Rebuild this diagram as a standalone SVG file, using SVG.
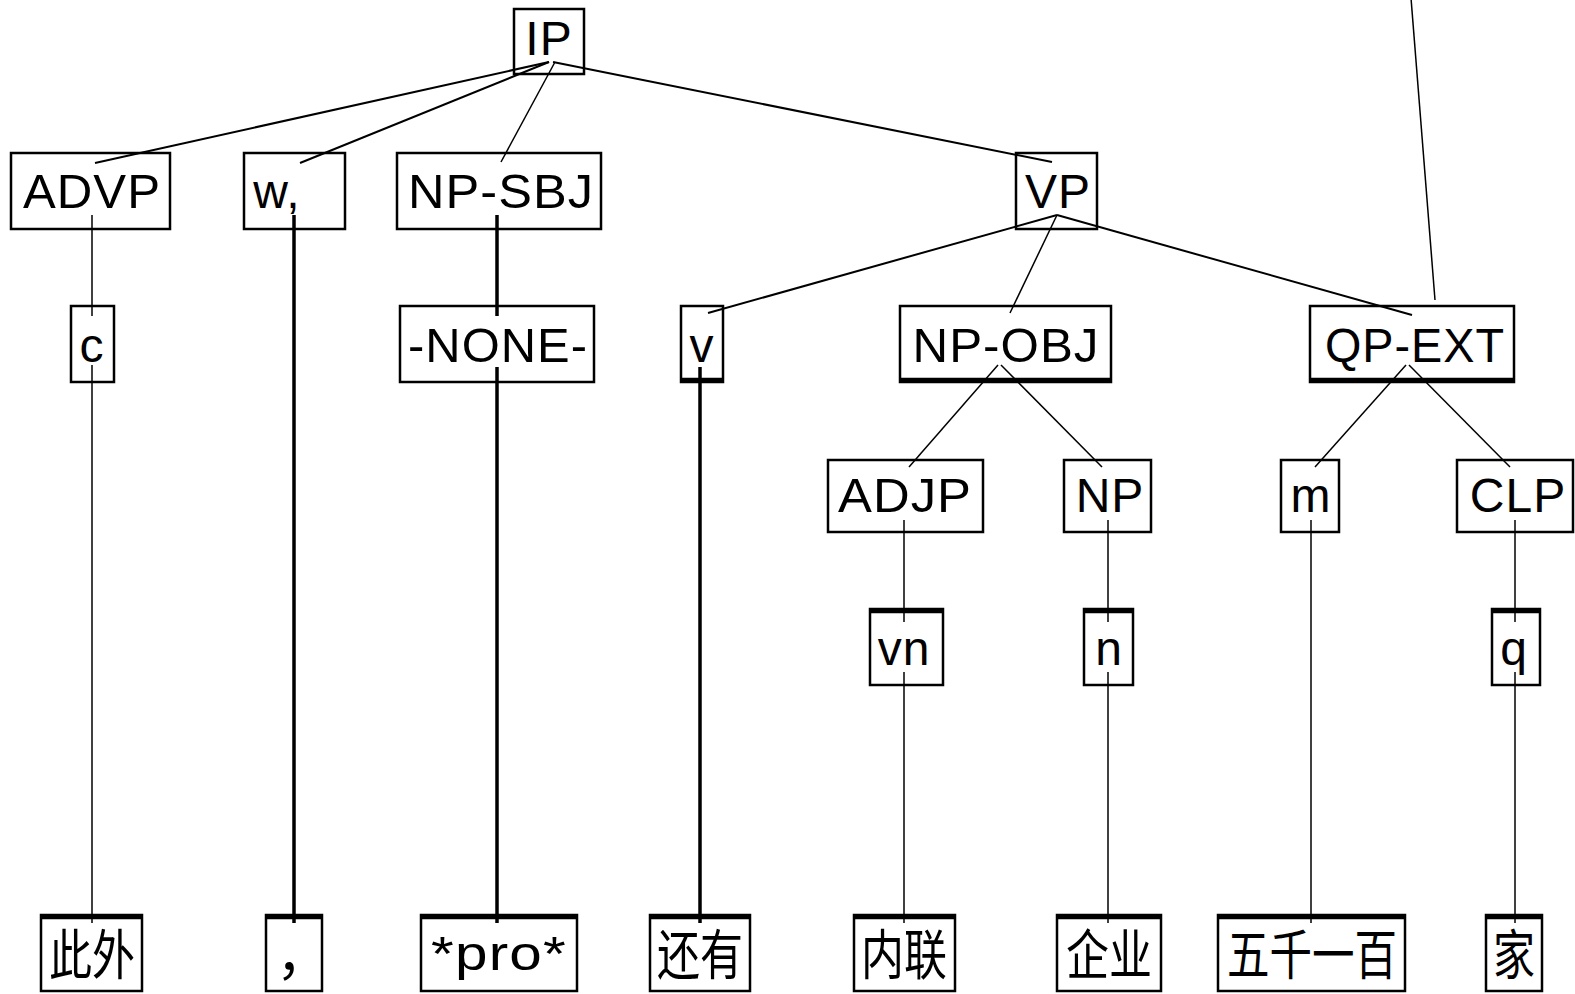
<svg xmlns="http://www.w3.org/2000/svg" width="1575" height="994" viewBox="0 0 1575 994">
  <style>
    .box { fill: none; stroke: #000; stroke-width: 2.5; }
    .edge { stroke: #000; stroke-width: 4.5; }
    .lbl { font-family: "Liberation Sans", Arial, sans-serif; font-size: 48px; fill: #000; text-anchor: middle; letter-spacing: 1px; }
    .cjk { font-family: "Noto Sans CJK SC", "Noto Sans CJK JP", sans-serif; font-size: 54px; fill: #000; text-anchor: middle; }
    .thin { stroke: #000; stroke-width: 1.5; fill: none; }
    .thick { stroke: #000; stroke-width: 3.5; fill: none; }
    .diag { stroke: #000; stroke-width: 2; fill: none; }
  </style>
  <rect width="1575" height="994" fill="#fff"/>

  <!-- connectors -->
  <g id="connectors">
    <line class="thin" x1="1411" y1="-2" x2="1435" y2="300"/>
    <!-- IP children -->
    <line class="diag" x1="549" y1="62" x2="95" y2="163"/>
    <line class="diag" x1="549" y1="62" x2="300" y2="163"/>
    <line class="thin" x1="555" y1="62" x2="501" y2="162"/>
    <line class="diag" x1="553" y1="62" x2="1052" y2="162"/>
    <!-- VP children -->
    <line class="diag" x1="1057" y1="215" x2="708" y2="313"/>
    <line class="thin" x1="1057" y1="215" x2="1010" y2="313"/>
    <line class="diag" x1="1057" y1="215" x2="1412" y2="315"/>
    <!-- NP-OBJ children -->
    <line class="thin" x1="998" y1="365" x2="909" y2="467"/>
    <line class="thin" x1="1001" y1="365" x2="1102" y2="467"/>
    <!-- QP-EXT children -->
    <line class="thin" x1="1406" y1="365" x2="1315" y2="467"/>
    <line class="thin" x1="1409" y1="365" x2="1510" y2="467"/>
    <!-- unary chains -->
    <line class="thin" x1="92" y1="215" x2="92" y2="316"/>
    <line class="thin" x1="92" y1="365" x2="92" y2="923"/>
    <line class="thick" x1="294" y1="215" x2="294" y2="923"/>
    <line class="thick" x1="497" y1="215" x2="497" y2="316"/>
    <line class="thick" x1="497" y1="367" x2="497" y2="923"/>
    <line class="thick" x1="700" y1="367" x2="700" y2="923"/>
    <line class="thin" x1="904" y1="520" x2="904" y2="622"/>
    <line class="thin" x1="904" y1="672" x2="904" y2="923"/>
    <line class="thin" x1="1108" y1="520" x2="1108" y2="622"/>
    <line class="thin" x1="1108" y1="672" x2="1108" y2="923"/>
    <line class="thin" x1="1311" y1="520" x2="1311" y2="923"/>
    <line class="thin" x1="1515" y1="520" x2="1515" y2="622"/>
    <line class="thin" x1="1515" y1="672" x2="1515" y2="923"/>
  </g>

  <!-- level 0 -->
  <g id="n-IP"><rect class="box" x="514" y="9" width="70" height="65"/><text class="lbl" x="549" y="55">IP</text></g>

  <!-- level 1 -->
  <g id="n-ADVP"><rect class="box" x="11" y="153" width="159" height="76"/><text class="lbl" x="92" y="208" textLength="138" lengthAdjust="spacingAndGlyphs">ADVP</text></g>
  <g id="n-w"><rect class="box" x="244" y="153" width="101" height="76"/><text class="lbl" x="277" y="208">w,</text></g>
  <g id="n-NP-SBJ"><rect class="box" x="397" y="153" width="204" height="76"/><text class="lbl" x="501" y="208" textLength="186" lengthAdjust="spacingAndGlyphs">NP-SBJ</text></g>
  <g id="n-VP"><rect class="box" x="1016" y="153" width="81" height="76"/><text class="lbl" x="1058" y="208">VP</text></g>

  <!-- level 2 (heavier bottom edge on the VP daughters) -->
  <g id="n-c"><rect class="box" x="71" y="306" width="43" height="76"/><text class="lbl" x="92" y="362">c</text></g>
  <g id="n-NONE"><rect class="box" x="400" y="306" width="194" height="76"/><text class="lbl" x="498" y="362" textLength="180" lengthAdjust="spacingAndGlyphs">-NONE-</text></g>
  <g id="n-v"><rect class="box" x="681" y="306" width="42" height="76"/><line class="edge" x1="681" y1="380" x2="723" y2="380"/><text class="lbl" x="702" y="362">v</text></g>
  <g id="n-NP-OBJ"><rect class="box" x="900" y="306" width="211" height="76"/><line class="edge" x1="900" y1="380" x2="1111" y2="380"/><text class="lbl" x="1006" y="362" textLength="187" lengthAdjust="spacingAndGlyphs">NP-OBJ</text></g>
  <g id="n-QP-EXT"><rect class="box" x="1310" y="306" width="204" height="76"/><line class="edge" x1="1310" y1="380" x2="1514" y2="380"/><text class="lbl" x="1415" y="362" textLength="180" lengthAdjust="spacingAndGlyphs">QP-EXT</text></g>

  <!-- level 3 -->
  <g id="n-ADJP"><rect class="box" x="828" y="460" width="155" height="72"/><text class="lbl" x="905" y="512" textLength="134" lengthAdjust="spacingAndGlyphs">ADJP</text></g>
  <g id="n-NP"><rect class="box" x="1064" y="460" width="87" height="72"/><text class="lbl" x="1110" y="512">NP</text></g>
  <g id="n-m"><rect class="box" x="1281" y="460" width="58" height="72"/><text class="lbl" x="1311" y="512">m</text></g>
  <g id="n-CLP"><rect class="box" x="1457" y="460" width="116" height="72"/><text class="lbl" x="1518" y="512">CLP</text></g>

  <!-- level 4 (heavier top edge) -->
  <g id="n-vn"><rect class="box" x="870" y="609" width="73" height="76"/><line class="edge" x1="870" y1="611" x2="943" y2="611"/><text class="lbl" x="904" y="665">vn</text></g>
  <g id="n-n"><rect class="box" x="1084" y="609" width="49" height="76"/><line class="edge" x1="1084" y1="611" x2="1133" y2="611"/><text class="lbl" x="1109" y="665">n</text></g>
  <g id="n-q"><rect class="box" x="1492" y="609" width="48" height="76"/><line class="edge" x1="1492" y1="611" x2="1540" y2="611"/><text class="lbl" x="1514" y="665">q</text></g>

  <!-- leaves (heavier top edge) -->
  <g id="w-cwai"><rect class="box" x="41" y="915" width="101" height="76"/><line class="edge" x1="41" y1="917" x2="142" y2="917"/><text class="cjk" x="92" y="975" textLength="86" lengthAdjust="spacingAndGlyphs">此外</text></g>
  <g id="w-comma"><rect class="box" x="266" y="915" width="56" height="76"/><line class="edge" x1="266" y1="917" x2="322" y2="917"/><text class="cjk" x="303" y="975">，</text></g>
  <g id="w-pro"><rect class="box" x="421" y="915" width="156" height="76"/><line class="edge" x1="421" y1="917" x2="577" y2="917"/><text class="lbl" x="499" y="970" textLength="136" lengthAdjust="spacingAndGlyphs">*pro*</text></g>
  <g id="w-haiyou"><rect class="box" x="650" y="915" width="100" height="76"/><line class="edge" x1="650" y1="917" x2="750" y2="917"/><text class="cjk" x="700" y="975" textLength="86" lengthAdjust="spacingAndGlyphs">还有</text></g>
  <g id="w-neilian"><rect class="box" x="854" y="915" width="101" height="76"/><line class="edge" x1="854" y1="917" x2="955" y2="917"/><text class="cjk" x="904" y="975" textLength="86" lengthAdjust="spacingAndGlyphs">内联</text></g>
  <g id="w-qiye"><rect class="box" x="1057" y="915" width="104" height="76"/><line class="edge" x1="1057" y1="917" x2="1161" y2="917"/><text class="cjk" x="1109" y="975" textLength="86" lengthAdjust="spacingAndGlyphs">企业</text></g>
  <g id="w-num"><rect class="box" x="1218" y="915" width="187" height="76"/><line class="edge" x1="1218" y1="917" x2="1405" y2="917"/><text class="cjk" x="1312" y="975" textLength="170" lengthAdjust="spacingAndGlyphs">五千一百</text></g>
  <g id="w-jia"><rect class="box" x="1486" y="915" width="56" height="76"/><line class="edge" x1="1486" y1="917" x2="1542" y2="917"/><text class="cjk" x="1514" y="975" textLength="42" lengthAdjust="spacingAndGlyphs">家</text></g>
</svg>
